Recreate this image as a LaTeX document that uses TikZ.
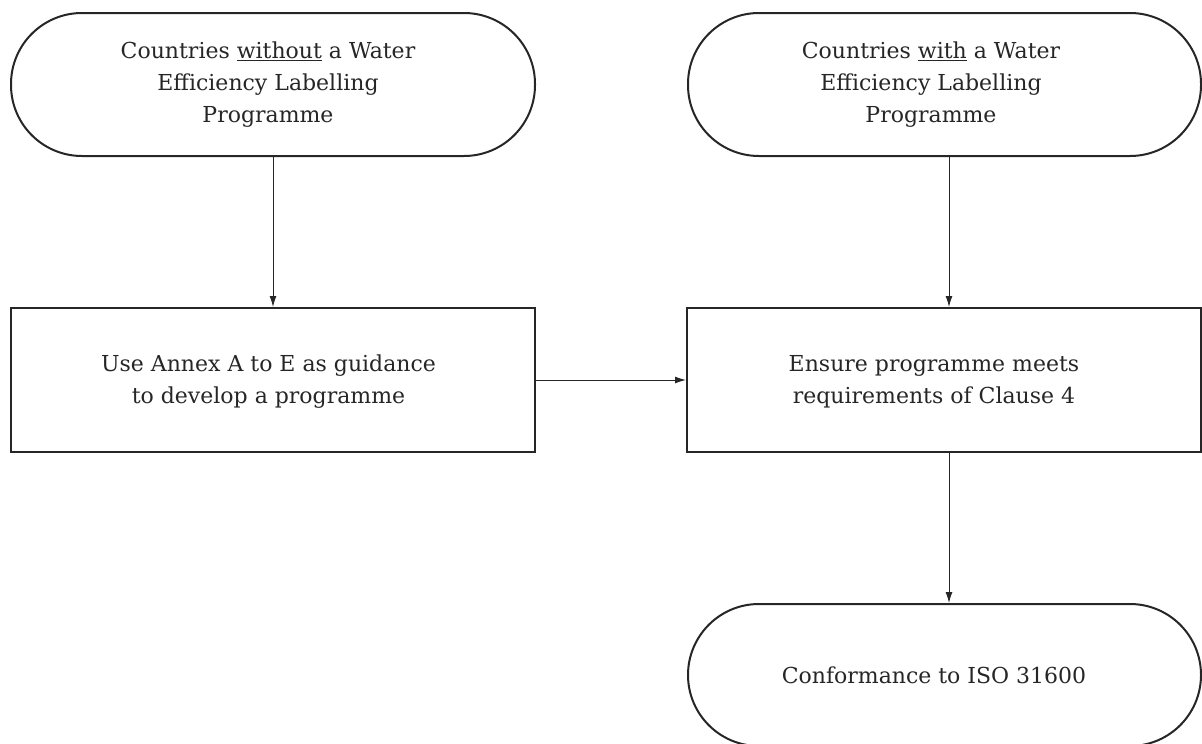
\documentclass[tikz,border=0pt]{standalone}
\usepackage{fontspec}
\setmainfont{DejaVu Serif}
\usetikzlibrary{arrows.meta,calc}
\begin{document}
\begin{tikzpicture}[x=1pt,y=-1pt,
  shapeline/.style={draw=black!85,line width=2pt,inner sep=0pt},
  stadium/.style={shapeline,rounded corners=71pt},
  boxnode/.style={shapeline},
  lbl/.style={align=center,font=\fontsize{22}{32}\selectfont,text=black!85,inner sep=0pt},
  arr/.style={draw=black!85,line width=1pt,-{Latex[length=11pt,width=7pt]}}]
\useasboundingbox (0,0) rectangle (1202,744);
% shapes
\node[stadium,minimum width=524pt,minimum height=143pt] (a) at (273,84.5) {};
\node[stadium,minimum width=513pt,minimum height=143pt] (b) at (944.5,84.5) {};
\node[boxnode,minimum width=524pt,minimum height=144pt] (c) at (273,380) {};
\node[boxnode,minimum width=514pt,minimum height=144pt] (d) at (944,380) {};
\node[stadium,minimum width=513pt,minimum height=142pt] (e) at (944.5,675) {};
% labels
\node[lbl] (ta) at (268,85) {Countries \underline{without} a Water\\Efficiency Labelling\\Programme};
\node[lbl] (tb) at (931,85) {Countries \underline{with} a Water\\Efficiency Labelling\\Programme};
\node[lbl] (tc) at (268.5,382) {Use Annex A to E as guidance\\to develop a programme};
\node[lbl] (td) at (934,382) {Ensure programme meets\\requirements of Clause 4};
\node[lbl] (te) at (934,675) {Conformance to ISO 31600};
% connectors
\coordinate (rx) at (949,0);
\draw[arr] (a.south) -- (c.north);
\draw[arr] (b.south -| rx) -- (d.north -| rx);
\draw[arr] (c.east) -- (d.west);
\draw[arr] (d.south -| rx) -- (e.north -| rx);
\end{tikzpicture}
\end{document}
